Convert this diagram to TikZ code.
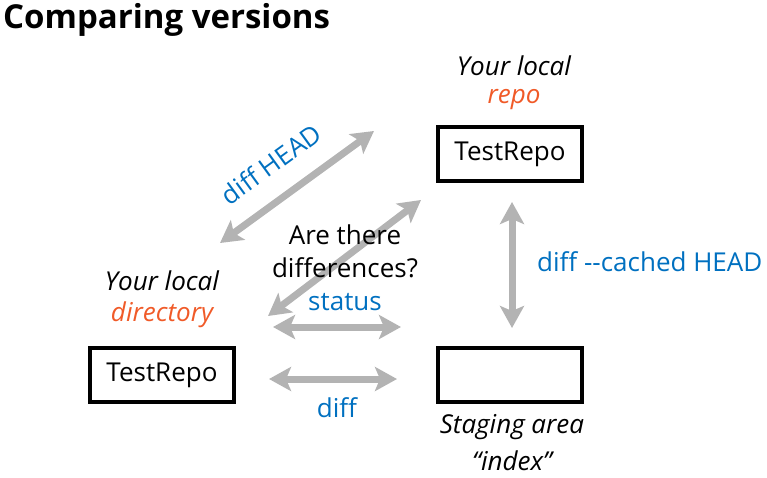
\documentclass[tikz,border=0pt]{standalone}
\usepackage{fontspec}
\setmainfont{Open Sans}
\usetikzlibrary{arrows.meta}
\definecolor{gblue}{HTML}{0070C0}
\definecolor{gorange}{HTML}{F05A28}
\definecolor{agray}{HTML}{B3B3B3}
\begin{document}
\begin{tikzpicture}[x=1pt,y=-1pt,
  box/.style={draw=black,line width=4pt,minimum width=144pt,minimum height=54pt,inner sep=0pt,font=\fontsize{26}{30}\selectfont},
  lbl/.style={font=\fontsize{26}{30}\selectfont\itshape,inner sep=0pt},
  cmd/.style={font=\fontsize{26}{30}\selectfont,text=gblue,inner sep=0pt},
  garrow/.style={draw=agray,line width=7pt,{Stealth[length=22pt,width=24pt,inset=5pt]}-{Stealth[length=22pt,width=24pt,inset=5pt]}}]
\useasboundingbox (0,0) rectangle (767,478);
\node[anchor=west,inner sep=0pt,font=\fontsize{33}{38}\selectfont\bfseries] (title) at (3,20) {Comparing versions};
\node[box] (repo) at (510,154) {TestRepo};
\node[box] (dir) at (162,375) {TestRepo};
\node[box] (stage) at (510,375) {};
\node[lbl] (repo1) at (514,66) {Your local};
\node[lbl,text=gorange] (repo2) at (514,100) {repo};
\node[lbl] (dir1) at (162,281) {Your local};
\node[lbl,text=gorange] (dir2) at (162,315) {directory};
\node[lbl] (st1) at (512,427) {Staging area};
\node[lbl] (st2) at (512,461) {“index”};
\coordinate (a1s) at (220,243); \coordinate (a1e) at (374,131);
\coordinate (a2s) at (268,316); \coordinate (a2e) at (421,200);
\coordinate (a3s) at (273,327); \coordinate (a3e) at (401,327);
\coordinate (a4s) at (269,379); \coordinate (a4e) at (397,379);
\coordinate (a5s) at (512,202); \coordinate (a5e) at (512,328);
\draw[garrow] (a1s) -- (a1e);
\draw[garrow] (a2s) -- (a2e);
\draw[garrow] (a3s) -- (a3e);
\draw[garrow] (a4s) -- (a4e);
\draw[garrow] (a5s) -- (a5e);
\node[cmd,rotate=36] (dhead) at (271,164) {diff HEAD};
\node[font=\fontsize{26}{30}\selectfont,inner sep=0pt] (q1) at (345,235) {Are there};
\node[font=\fontsize{26}{30}\selectfont,inner sep=0pt] (q2) at (345,268) {differences?};
\node[cmd] (status) at (345,302) {status};
\node[cmd] (diff) at (337,408) {diff};
\node[cmd,anchor=west] (cached) at (537,262) {diff -{}-cached HEAD};
\end{tikzpicture}
\end{document}
